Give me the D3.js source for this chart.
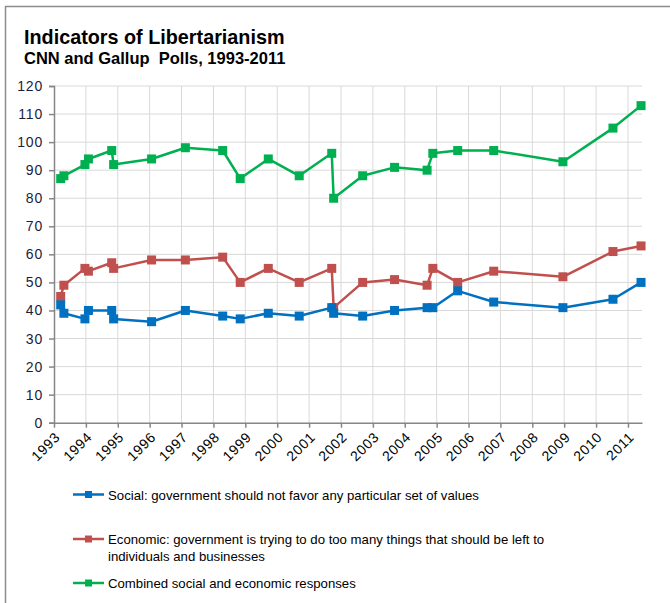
<!DOCTYPE html>
<html>
<head>
<meta charset="utf-8">
<script src="https://cdn.jsdelivr.net/npm/d3@7"></script>
<style>
body {margin:0; background:#fff;}
svg {font-family: "Liberation Sans", Arial, sans-serif;}
</style>
</head>
<body>
<div id="chart"></div>
<script>
// poll dates as decimal years
const dates = [1993.21,1993.31,1993.97,1994.08,1994.81,1994.87,1996.06,1997.12,1998.29,1998.84,
               1999.72,2000.69,2001.71,2001.77,2002.68,2003.68,2004.70,2004.88,2005.66,2006.79,
               2008.96,2010.53,2011.41];
const social   = [42,39,37,40,40,37,36,40,38,37,39,38,41,39,38,40,41,41,47,43,41,44,50];
const economic = [45,49,55,54,57,55,58,58,59,50,55,50,55,41,50,51,49,55,50,54,52,61,63];
const combined = [87,88,92,94,97,92,94,98,97,87,94,88,96,80,88,91,90,96,97,97,93,105,113];
const yearTicks = d3.range(1993,2012);
const valueTicks = d3.range(0,121,10);
const seriesNames = ["Social: government should not favor any particular set of values",
                     "Economic: government is trying to do too many things that should be left to|individuals and businesses",
                     "Combined social and economic responses"];

const W = 670, H = 603;
const plot = {left:54, top:86, right:642, bottom:422.7};

const svg = d3.select("#chart").append("svg")
    .attr("width",W).attr("height",H);

// outer frame (only top/left are inside the screenshot)
svg.append("rect")
    .attr("x",5.5).attr("y",6.5).attr("width",800).attr("height",800)
    .attr("fill","none").attr("stroke","#8c8c8c").attr("stroke-width",1.5);

svg.append("text").attr("x",24).attr("y",44)
    .attr("font-size",19.8).attr("font-weight","bold").attr("fill","#000")
    .text("Indicators of Libertarianism");
svg.append("text").attr("x",24).attr("y",63.5)
    .attr("font-size",16.5).attr("font-weight","bold").attr("fill","#000")
    .style("white-space","pre")
    .text("CNN and Gallup  Polls, 1993-2011");

const x = d3.scaleLinear().domain([1993,2011.44]).range([plot.left,plot.right]);
const y = d3.scaleLinear().domain([0,120]).range([plot.bottom,plot.top]);

// gridlines
const grid = svg.append("g");
grid.selectAll(".hg").data(valueTicks.slice(1)).enter().append("line")
    .attr("x1",plot.left).attr("x2",plot.right)
    .attr("y1",d=>y(d)).attr("y2",d=>y(d))
    .attr("stroke","#d9d9d9").attr("stroke-width",1);
grid.selectAll(".vg").data(yearTicks.slice(1)).enter().append("line")
    .attr("x1",d=>x(d)).attr("x2",d=>x(d))
    .attr("y1",plot.top).attr("y2",plot.bottom)
    .attr("stroke","#d9d9d9").attr("stroke-width",1);

// axes
const yAxis = svg.append("g")
    .attr("transform",`translate(${plot.left},0)`)
    .call(d3.axisLeft(y).tickValues(valueTicks).tickSize(5).tickPadding(6));
yAxis.select(".domain").attr("stroke","#868686").attr("stroke-width",1.5);
yAxis.selectAll(".tick line").attr("stroke","#868686").attr("stroke-width",1.5);
yAxis.selectAll("text").attr("font-size",14).attr("fill","#1c1c3c")
    .attr("font-family","Liberation Sans, Arial, sans-serif").style("letter-spacing","0.8px");

const xAxis = svg.append("g")
    .attr("transform",`translate(0,${plot.bottom})`)
    .call(d3.axisBottom(x).tickValues(yearTicks).tickFormat(d3.format("d")).tickSize(5).tickSizeOuter(0));
xAxis.select(".domain").attr("stroke","#868686").attr("stroke-width",1.5);
xAxis.selectAll(".tick line").attr("stroke","#868686").attr("stroke-width",1.5);
xAxis.selectAll("text")
    .attr("font-size",14).attr("fill","#000")
    .attr("font-family","Liberation Sans, Arial, sans-serif")
    .attr("text-anchor","end")
    .attr("dy","0.35em")
    .attr("y",0)
    .style("letter-spacing","0.6px")
    .attr("transform","translate(3,12) rotate(-45)");

// series
const series = [
    {name:seriesNames[2], values:combined, color:"#00b050"},
    {name:seriesNames[1], values:economic, color:"#c0504d"},
    {name:seriesNames[0], values:social,   color:"#0070c0"}
];
const line = d3.line().x(d=>x(d.t)).y(d=>y(d.v));
series.forEach(function(s) {
    const pts = dates.map((t,i)=>({t:t, v:s.values[i]}));
    const g = svg.append("g");
    g.append("path").datum(pts).attr("d",line)
        .attr("fill","none").attr("stroke",s.color).attr("stroke-width",2.5)
        .attr("stroke-linejoin","round");
    g.selectAll("rect").data(pts).enter().append("rect")
        .attr("x",d=>x(d.t)-4.5).attr("y",d=>y(d.v)-4.5)
        .attr("width",9).attr("height",9).attr("fill",s.color);
});

// legend
const legendRows = [
    {color:"#0070c0", name:seriesNames[0], y:494.5},
    {color:"#c0504d", name:seriesNames[1], y:539},
    {color:"#00b050", name:seriesNames[2], y:583}
];
legendRows.forEach(function(r) {
    const g = svg.append("g");
    g.append("line").attr("x1",73).attr("x2",104).attr("y1",r.y).attr("y2",r.y)
        .attr("stroke",r.color).attr("stroke-width",2.5);
    g.append("rect").attr("x",85).attr("y",r.y-3.5).attr("width",7).attr("height",7).attr("fill",r.color);
    const parts = r.name.split("|");
    parts.forEach(function(p,i) {
        g.append("text").attr("x",108).attr("y",r.y+5+i*16.5)
            .attr("font-size",13.2).attr("fill","#000").text(p);
    });
});
</script>
</body>
</html>
